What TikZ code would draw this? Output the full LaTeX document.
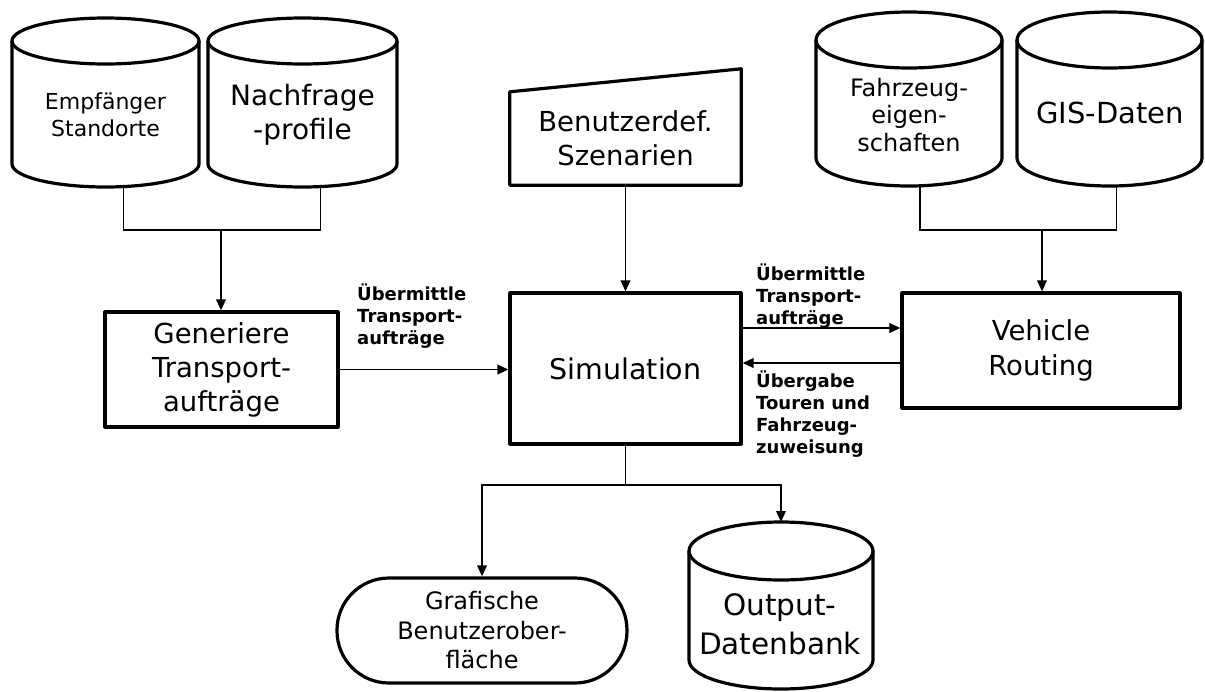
\documentclass[tikz,border=0pt]{standalone}
\usepackage{fontspec}
\setmainfont{DejaVu Sans}
\usetikzlibrary{arrows.meta,calc}
\tikzset{
  shapeline/.style={line width=3.2pt, line join=round},
  conn/.style={line width=1.9pt},
  arr/.style={conn,-{Triangle[length=11pt,width=9.5pt]}},
  txt/.style={inner sep=0pt, align=center},
  box/.style={draw, shapeline, inner sep=0pt, align=center},
  lbl/.style={inner sep=0pt, align=left, anchor=west, font=\bfseries\fontsize{18}{22}\selectfont},
}
\newcommand\mycyl[6]{%
  \draw[shapeline] (#2,{-(#4)-(#6)}) -- (#2,{-(#5)+(#6)})
     arc[start angle=180,end angle=360,x radius={((#3)-(#2))/2*1pt},y radius={(#6)*1pt}]
     -- (#3,{-(#4)-(#6)});
  \draw[shapeline] ({((#2)+(#3))/2},{-(#4)-(#6)}) ellipse[x radius={((#3)-(#2))/2*1pt},y radius={(#6)*1pt}];
  \coordinate (#1-bot) at ({((#2)+(#3))/2},{-(#5)});
  \coordinate (#1-top) at ({((#2)+(#3))/2},{-(#4)});
}
\begin{document}
\begin{tikzpicture}[x=1pt,y=1pt]
\useasboundingbox (0,0) rectangle (1205,-691);
\fill[white] (0,0) rectangle (1205,-691);

% cylinders
\mycyl{emp}{12}{199}{18}{187}{23}
\mycyl{nach}{208}{397}{18}{187}{23}
\mycyl{fahr}{816}{1002}{12}{186}{28}
\mycyl{gis}{1017}{1202}{12}{186}{28}
\mycyl{out}{689}{873}{522}{689}{29}

\node[txt, font=\fontsize{22}{26.5}\selectfont] (empT) at (105.5,-115) {Empfänger\\Standorte};
\node[txt, font=\fontsize{28}{34}\selectfont] (nachT) at (302.5,-115) {Nachfrage\\-profile};
\node[txt, font=\fontsize{24}{27.5}\selectfont] (fahrT) at (909,-115) {Fahrzeug-\\eigen-\\schaften};
\node[txt, font=\fontsize{29}{35}\selectfont] (gisT) at (1110,-113) {GIS-Daten};
\node[txt, font=\fontsize{29.5}{39}\selectfont] (outT) at (780,-624) {Output-\\Datenbank};

% manual input
\node[txt, minimum width=231pt, minimum height=93pt, font=\fontsize{27.5}{34}\selectfont] (bsz) at (625.5,-138.5) {Benutzerdef.\\Szenarien};
\draw[shapeline] (bsz.south west) -- (bsz.north west) -- ([yshift=23pt]bsz.north east) -- (bsz.south east) -- cycle;

% boxes
\node[box, minimum width=233pt, minimum height=115pt, font=\fontsize{27.5}{34}\selectfont] (gen) at (221.5,-369.5) {Generiere\\Transport-\\aufträge};
\node[box, minimum width=231pt, minimum height=151pt, font=\fontsize{28.5}{34}\selectfont] (sim) at (625.5,-368.5) {Simulation};
\node[box, minimum width=278pt, minimum height=115pt, font=\fontsize{27.5}{35}\selectfont] (vr) at (1041,-350.5) {Vehicle\\Routing};
\node[box, rounded corners=52pt, minimum width=290pt, minimum height=105pt, font=\fontsize{24}{29.5}\selectfont] (gui) at (482,-630.5) {Grafische\\Benutzerober-\\fläche};

% connectors top left
\draw[conn] ([xshift=18pt]emp-bot) -- ++(0,-43) -| ([xshift=18pt]nach-bot);
\coordinate (jl) at (221,-230);
\draw[arr] (jl) -- (jl |- gen.north);

% connectors top right
\draw[conn] ([xshift=11pt]fahr-bot) -- ++(0,-44) -| ([xshift=7pt]gis-bot);
\coordinate (jr) at (1042,-230);
\draw[arr] (jr) -- (jr |- vr.north);

% middle
\draw[arr] (bsz.south) -- (sim.north);
\draw[arr] (gen.east) -- (gen.east -| sim.west);
\draw[arr] ([yshift=40.5pt]sim.east) -- ([yshift=40.5pt]sim.east -| vr.west);
\draw[arr] ([yshift=5.5pt]sim.east -| vr.west) -- ([yshift=5.5pt]sim.east);

% bottom
\draw[conn] (sim.south) -- ++(0,-39) coordinate (jb);
\draw[arr] (jb) -| (gui.north);
\draw[arr] (jb) -| (out-top);

% labels
\node[lbl] (l1) at (357,-316.5) {Übermittle\\Transport-\\aufträge};
\node[lbl] (l2) at (756,-296.5) {Übermittle\\Transport-\\aufträge};
\node[lbl] (l3) at (756,-414.5) {Übergabe\\Touren und\\Fahrzeug-\\zuweisung};
\end{tikzpicture}
\end{document}
